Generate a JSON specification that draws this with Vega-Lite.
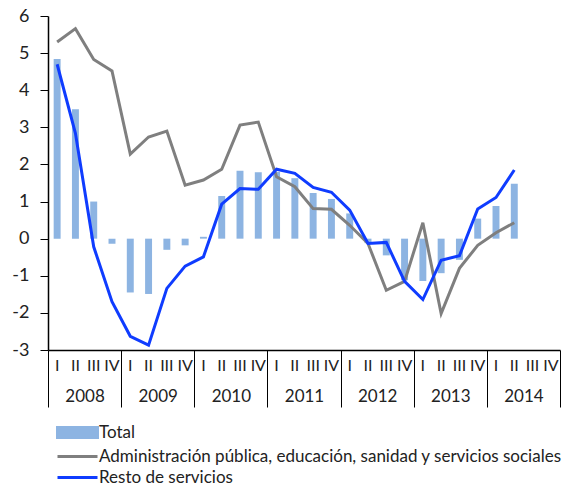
{
  "$schema": "https://vega.github.io/schema/vega-lite/v6.json",
  "width": 512,
  "height": 334,
  "autosize": {"type": "none"},
  "padding": {"left": 48, "top": 16, "right": 20, "bottom": 139},
  "background": "white",
  "config": {
    "view": {"stroke": null},
    "font": "Lato",
    "axis": {"grid": false, "labelOverlap": false},
    "axisY": {"labelOverlap": false, "labelFlush": false}
  },
  "data": {
    "values": [
      {"period": "2008 I", "year": "2008", "Total": 4.84, "Administración pública, educación, sanidad y servicios sociales": 5.30, "Resto de servicios": 4.70},
      {"period": "2008 II", "year": "2008", "Total": 3.49, "Administración pública, educación, sanidad y servicios sociales": 5.66, "Resto de servicios": 2.84},
      {"period": "2008 III", "year": "2008", "Total": 1.00, "Administración pública, educación, sanidad y servicios sociales": 4.83, "Resto de servicios": -0.22},
      {"period": "2008 IV", "year": "2008", "Total": -0.14, "Administración pública, educación, sanidad y servicios sociales": 4.52, "Resto de servicios": -1.70},
      {"period": "2009 I", "year": "2009", "Total": -1.45, "Administración pública, educación, sanidad y servicios sociales": 2.28, "Resto de servicios": -2.63},
      {"period": "2009 II", "year": "2009", "Total": -1.49, "Administración pública, educación, sanidad y servicios sociales": 2.74, "Resto de servicios": -2.87},
      {"period": "2009 III", "year": "2009", "Total": -0.30, "Administración pública, educación, sanidad y servicios sociales": 2.90, "Resto de servicios": -1.34},
      {"period": "2009 IV", "year": "2009", "Total": -0.18, "Administración pública, educación, sanidad y servicios sociales": 1.44, "Resto de servicios": -0.74},
      {"period": "2010 I", "year": "2010", "Total": 0.05, "Administración pública, educación, sanidad y servicios sociales": 1.58, "Resto de servicios": -0.49},
      {"period": "2010 II", "year": "2010", "Total": 1.15, "Administración pública, educación, sanidad y servicios sociales": 1.87, "Resto de servicios": 0.93},
      {"period": "2010 III", "year": "2010", "Total": 1.83, "Administración pública, educación, sanidad y servicios sociales": 3.06, "Resto de servicios": 1.35},
      {"period": "2010 IV", "year": "2010", "Total": 1.79, "Administración pública, educación, sanidad y servicios sociales": 3.14, "Resto de servicios": 1.33},
      {"period": "2011 I", "year": "2011", "Total": 1.80, "Administración pública, educación, sanidad y servicios sociales": 1.67, "Resto de servicios": 1.87},
      {"period": "2011 II", "year": "2011", "Total": 1.63, "Administración pública, educación, sanidad y servicios sociales": 1.40, "Resto de servicios": 1.76},
      {"period": "2011 III", "year": "2011", "Total": 1.23, "Administración pública, educación, sanidad y servicios sociales": 0.81, "Resto de servicios": 1.38},
      {"period": "2011 IV", "year": "2011", "Total": 1.07, "Administración pública, educación, sanidad y servicios sociales": 0.79, "Resto de servicios": 1.25},
      {"period": "2012 I", "year": "2012", "Total": 0.68, "Administración pública, educación, sanidad y servicios sociales": 0.36, "Resto de servicios": 0.77},
      {"period": "2012 II", "year": "2012", "Total": -0.12, "Administración pública, educación, sanidad y servicios sociales": -0.13, "Resto de servicios": -0.13},
      {"period": "2012 III", "year": "2012", "Total": -0.45, "Administración pública, educación, sanidad y servicios sociales": -1.39, "Resto de servicios": -0.10},
      {"period": "2012 IV", "year": "2012", "Total": -1.12, "Administración pública, educación, sanidad y servicios sociales": -1.15, "Resto de servicios": -1.15},
      {"period": "2013 I", "year": "2013", "Total": -1.14, "Administración pública, educación, sanidad y servicios sociales": 0.43, "Resto de servicios": -1.64},
      {"period": "2013 II", "year": "2013", "Total": -0.93, "Administración pública, educación, sanidad y servicios sociales": -2.02, "Resto de servicios": -0.58},
      {"period": "2013 III", "year": "2013", "Total": -0.57, "Administración pública, educación, sanidad y servicios sociales": -0.80, "Resto de servicios": -0.46},
      {"period": "2013 IV", "year": "2013", "Total": 0.54, "Administración pública, educación, sanidad y servicios sociales": -0.18, "Resto de servicios": 0.80},
      {"period": "2014 I", "year": "2014", "Total": 0.88, "Administración pública, educación, sanidad y servicios sociales": 0.16, "Resto de servicios": 1.11},
      {"period": "2014 II", "year": "2014", "Total": 1.48, "Administración pública, educación, sanidad y servicios sociales": 0.43, "Resto de servicios": 1.85}
    ]
  },
  "transform": [
    {"fold": ["Total", "Administración pública, educación, sanidad y servicios sociales", "Resto de servicios"], "as": ["serie", "valor"]}
  ],
  "layer": [
    {
      "mark": {"type": "rule", "opacity": 0},
      "encoding": {
        "x": {
          "field": "year", "type": "nominal", "sort": null,
          "scale": {"domain": ["2008", "2009", "2010", "2011", "2012", "2013", "2014"], "paddingInner": 0, "paddingOuter": 0},
          "axis": {
            "title": null, "orient": "bottom", "domain": false, "ticks": true, "tickBand": "extent",
            "tickSize": 57, "tickColor": "black", "tickWidth": 1,
            "labelFont": "Lato", "labelFontSize": 17, "labelColor": "#222", "labelPadding": -19, "labelAngle": 0
          }
        }
      }
    },
    {
      "layer": [
        {
          "transform": [{"filter": "datum.serie === 'Total'"}],
          "mark": {"type": "bar"},
          "encoding": {
            "x": {
              "field": "period", "type": "nominal", "sort": null,
              "scale": {
                "domain": ["2008 I","2008 II","2008 III","2008 IV","2009 I","2009 II","2009 III","2009 IV","2010 I","2010 II","2010 III","2010 IV","2011 I","2011 II","2011 III","2011 IV","2012 I","2012 II","2012 III","2012 IV","2013 I","2013 II","2013 III","2013 IV","2014 I","2014 II","2014 III","2014 IV"],
                "paddingInner": 0.62, "paddingOuter": 0.31
              },
              "axis": {
                "title": null, "orient": "bottom", "domain": true, "domainColor": "black", "domainWidth": 1.5, "ticks": false,
                "labelExpr": "split(datum.value, ' ')[1]", "labelFont": "Lato", "labelFontSize": 16,
                "labelColor": "#222", "labelPadding": 7, "labelAngle": 0
              }
            },
            "y": {
              "field": "valor", "type": "quantitative", "stack": null,
              "scale": {"domain": [-3, 6], "nice": false, "zero": false},
              "axis": {
                "title": null, "values": [-3, -2, -1, 0, 1, 2, 3, 4, 5, 6], "domainColor": "black", "domainWidth": 1.5,
                "tickColor": "black", "tickSize": 8, "labelFont": "Lato", "labelFontSize": 18, "labelPadding": 11,
                "labelColor": "#222", "grid": false, "labelFlush": false, "labelOverlap": false,
                "labelExpr": "'' + datum.value"
              }
            },
            "color": {
              "field": "serie", "type": "nominal",
              "scale": {
                "domain": ["Total", "Administración pública, educación, sanidad y servicios sociales", "Resto de servicios"],
                "range": ["#8db4e2", "#7f7f7f", "#0f3cff"]
              },
              "legend": {
                "title": null, "orient": "none", "legendX": 21, "legendY": 408, "direction": "vertical", "padding": 0,
                "labelFont": "Lato", "labelFontSize": 17, "labelColor": "#222", "labelLimit": 0,
                "symbolSize": 100, "labelOffset": 13, "rowPadding": 3,
                "encode": {
                  "symbols": {
                    "update": {
                      "shape": {"signal": "datum.value === 'Total' ? 'M-4,-1H4V1H-4Z' : 'M-4,0H4'"},
                      "fill": {"signal": "datum.value === 'Total' ? '#8db4e2' : 'transparent'"},
                      "stroke": {"signal": "datum.value === 'Total' ? 'transparent' : (datum.value === 'Resto de servicios' ? '#0f3cff' : '#7f7f7f')"},
                      "strokeWidth": {"value": 3},
                      "opacity": {"value": 1}
                    }
                  }
                }
              }
            }
          }
        },
        {
          "transform": [{"filter": "datum.serie !== 'Total'"}],
          "mark": {"type": "line", "strokeWidth": 3},
          "encoding": {
            "x": {"field": "period", "type": "nominal", "sort": null},
            "y": {
              "field": "valor", "type": "quantitative",
              "axis": {
                "title": null, "values": [-3, -2, -1, 0, 1, 2, 3, 4, 5, 6], "domainColor": "black", "domainWidth": 1.5,
                "tickColor": "black", "tickSize": 8, "labelFont": "Lato", "labelFontSize": 18, "labelPadding": 11,
                "labelColor": "#222", "grid": false, "labelFlush": false, "labelOverlap": false,
                "labelExpr": "'' + datum.value"
              }
            },
            "color": {"field": "serie", "type": "nominal"}
          }
        }
      ]
    }
  ],
  "resolve": {"scale": {"x": "independent"}, "axis": {"x": "independent"}}
}
